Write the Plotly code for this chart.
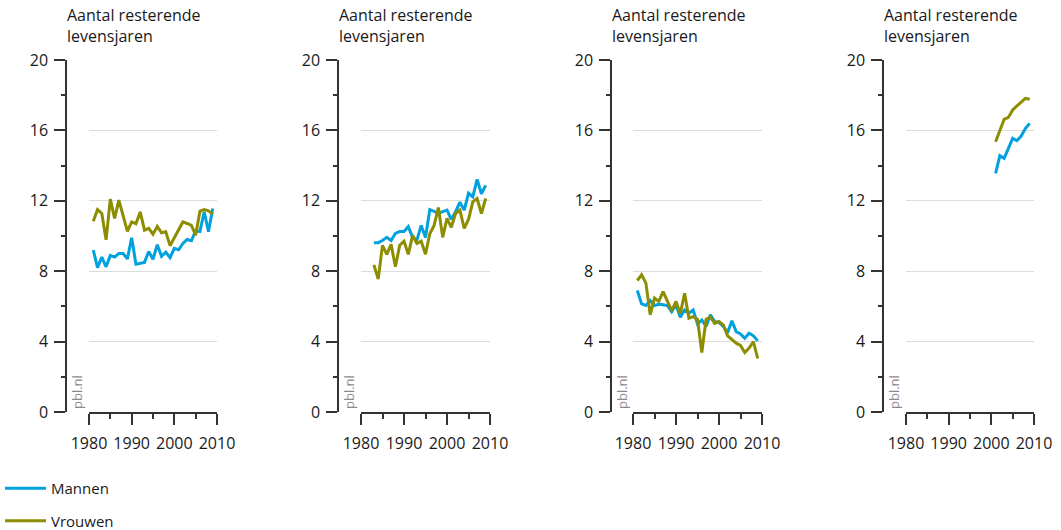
import plotly.graph_objects as go

# ---------------- data ----------------
years_p1 = list(range(1981, 2010))
mannen_p1 = [9.2, 8.2, 8.8, 8.25, 8.9, 8.8, 9.0, 9.0, 8.7, 9.9, 8.4, 8.47, 8.5, 9.12, 8.68, 9.5,
             8.85, 9.08, 8.77, 9.3, 9.22, 9.58, 9.8, 9.73, 10.3, 10.25, 11.38, 10.24, 11.56]
vrouwen_p1 = [10.84, 11.5, 11.28, 9.78, 12.1, 11.0, 12.04, 11.1, 10.26, 10.8, 10.7, 11.37, 10.33,
              10.43, 10.1, 10.55, 10.18, 10.24, 9.45, 9.9, 10.33, 10.8, 10.71, 10.6, 10.05, 11.41,
              11.5, 11.43, 11.24]

years_p2 = list(range(1983, 2010))
mannen_p2 = [9.62, 9.62, 9.74, 9.92, 9.74, 10.15, 10.25, 10.25, 10.53, 9.92, 9.77, 10.6, 9.92,
             11.5, 11.4, 11.28, 11.38, 11.47, 10.95, 11.38, 11.92, 11.47, 12.43, 12.23, 13.22,
             12.4, 12.88]
vrouwen_p2 = [8.36, 7.55, 9.47, 8.96, 9.53, 8.25, 9.47, 9.7, 8.96, 10.04, 9.57, 9.7, 8.96, 10.13,
              10.6, 11.62, 9.92, 11.0, 10.49, 11.28, 11.47, 10.43, 10.94, 11.94, 12.13, 11.28,
              12.13]

years_p3 = list(range(1981, 2010))
mannen_p3 = [6.9, 6.14, 6.05, 6.33, 6.05, 6.12, 6.09, 6.05, 5.7, 6.09, 5.39, 5.8, 5.61, 5.8, 5.0,
             5.23, 4.86, 5.52, 5.14, 5.08, 4.86, 4.51, 5.18, 4.57, 4.44, 4.19, 4.48, 4.33, 4.04]
vrouwen_p3 = [7.47, 7.79, 7.32, 5.52, 6.47, 6.28, 6.84, 6.33, 5.76, 6.28, 5.58, 6.75, 5.33, 5.42,
              5.27, 3.38, 5.27, 5.39, 5.04, 5.14, 4.95, 4.33, 4.1, 3.91, 3.78, 3.38, 3.63, 4.0, 3.04]

years_p4 = list(range(2001, 2010))
mannen_p4 = [13.56, 14.56, 14.41, 14.98, 15.55, 15.42, 15.68, 16.12, 16.4]
vrouwen_p4 = [15.36, 16.02, 16.63, 16.74, 17.16, 17.39, 17.63, 17.82, 17.77]

series_names = ["Mannen", "Vrouwen"]
x_range = [1980, 2010]
y_range = [0, 20]
y_title = "Aantal resterende<br>levensjaren"
watermark = "pbl.nl"

panels = [
    (years_p1, mannen_p1, vrouwen_p1),
    (years_p2, mannen_p2, vrouwen_p2),
    (years_p3, mannen_p3, vrouwen_p3),
    (years_p4, mannen_p4, vrouwen_p4),
]

# ---------------- layout / style ----------------
W, H = 1061, 530
colors = ["#00A1DE", "#8C8D00"]
font_family = "Open Sans, Noto Sans, sans-serif"
text_color = "#1a1a1a"
axis_color = "#333333"

yaxis_px = [66, 338, 611, 883]
xdom_px = [(89, 217), (361, 490), (633, 762), (906, 1034)]
y_top_px, y_bot_px = 60, 412
ydom = [(H - y_bot_px) / H, (H - y_top_px) / H]

fig = go.Figure()
annotations = []

for i, (yrs, m, v) in enumerate(panels):
    k = "" if i == 0 else str(i + 1)
    for j, (vals, name) in enumerate(zip([m, v], series_names)):
        fig.add_trace(go.Scatter(
            x=yrs, y=vals, mode="lines", name=name,
            line=dict(color=colors[j], width=3),
            xaxis="x" + k, yaxis="y" + k,
            showlegend=(i == 0), legendgroup=name,
            hoverinfo="skip",
        ))
    fig.layout["xaxis" + k] = dict(
        domain=[xdom_px[i][0] / W, xdom_px[i][1] / W],
        anchor="y" + k, range=x_range, automargin=False,
        showgrid=False, zeroline=False,
        showline=True, linecolor=axis_color, linewidth=1.5,
        ticks="outside", ticklen=11, tickwidth=1.5, tickcolor=axis_color,
        tickvals=[1980, 1990, 2000, 2010],
        minor=dict(tickvals=[1985, 1995, 2005], ticklen=5, tickwidth=1.5, tickcolor=axis_color, ticks="outside"),
        tickfont=dict(family=font_family, size=16, color=text_color),
        ticklabelstandoff=5,
        fixedrange=True,
    )
    fig.layout["yaxis" + k] = dict(
        domain=ydom, anchor="free", position=yaxis_px[i] / W, automargin=False,
        range=y_range, showgrid=True, gridcolor="#dcdcdc", gridwidth=1,
        zeroline=False, showline=True, linecolor=axis_color, linewidth=1.5,
        ticks="outside", ticklen=11, tickwidth=1.5, tickcolor=axis_color,
        tickvals=[0, 4, 8, 12, 16, 20],
        minor=dict(tickvals=[2, 6, 10, 14, 18], ticklen=4, tickwidth=1.5, tickcolor=axis_color, ticks="outside", showgrid=False),
        tickfont=dict(family=font_family, size=16, color=text_color),
        ticklabelstandoff=3,
        fixedrange=True,
    )
    annotations.append(dict(
        text=y_title, xref="paper", yref="paper",
        x=(yaxis_px[i] - 1) / W, y=1 - 2 / H, xanchor="left", yanchor="top",
        align="left", showarrow=False,
        font=dict(family=font_family, size=16, color=text_color),
    ))
    annotations.append(dict(
        text=watermark, xref="paper", yref="paper",
        x=(yaxis_px[i] + 11) / W, y=(H - y_bot_px + 1) / H,
        xanchor="center", yanchor="bottom", textangle=-90, showarrow=False,
        font=dict(family=font_family, size=13, color="#8a8a8a"),
    ))

fig.update_layout(
    width=W, height=H,
    margin=dict(l=0, r=0, t=0, b=0, autoexpand=False),
    paper_bgcolor="white", plot_bgcolor="white",
    annotations=annotations,
    showlegend=True,
    legend=dict(
        x=0, y=(H - 472) / H, xanchor="left", yanchor="top",
        orientation="v", traceorder="grouped", tracegroupgap=10,
        itemwidth=41,
        font=dict(family=font_family, size=15, color=text_color),
        bgcolor="rgba(0,0,0,0)",
    ),
)

fig.write_html(
    "out.html",
    config={"displayModeBar": False},
    post_script="document.body.style.margin='0';document.body.style.padding='0';",
)
